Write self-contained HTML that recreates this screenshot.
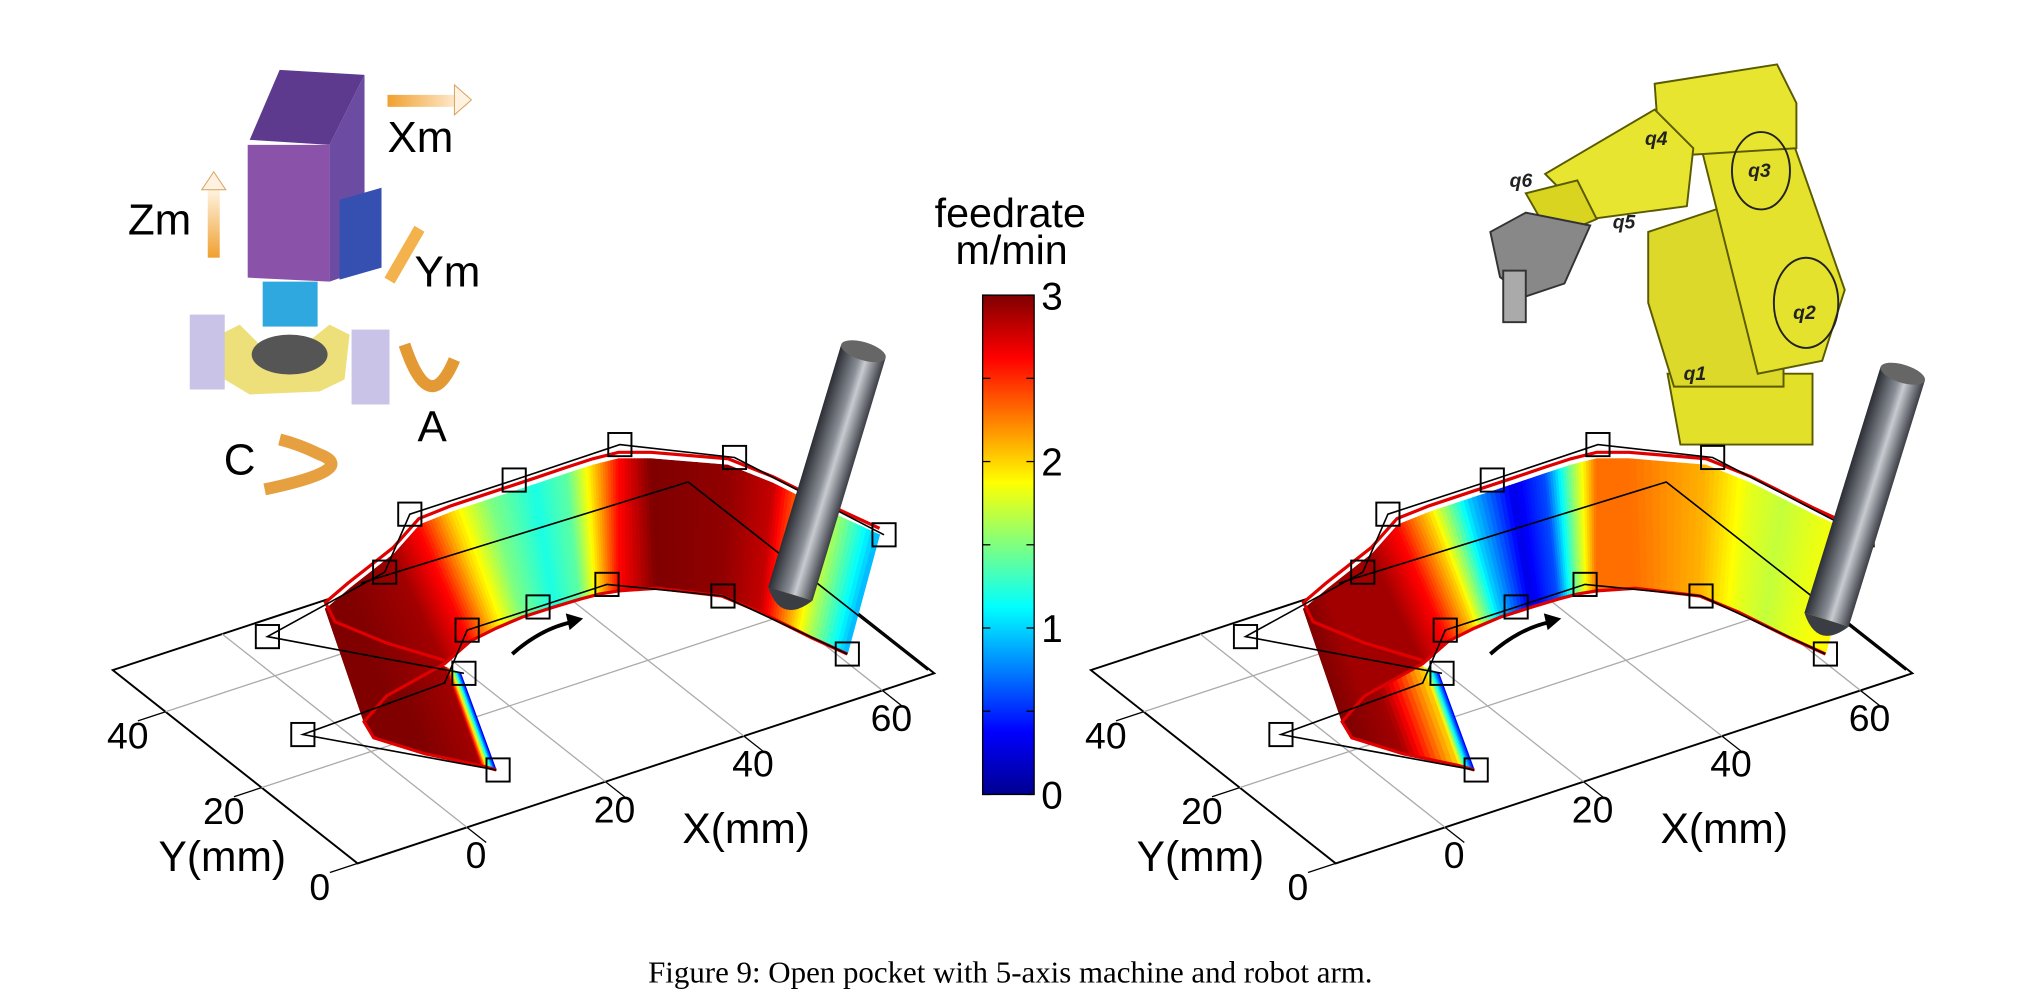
<!DOCTYPE html>
<html><head><meta charset="utf-8"><style>
html,body{margin:0;padding:0;background:#fff;}
svg{display:block;}
text{font-family:"Liberation Sans",sans-serif;}
</style></head><body>
<svg id="fig" width="2020" height="1000" viewBox="0 0 3135 1552" xmlns="http://www.w3.org/2000/svg">
<defs>
<linearGradient id="cbar" x1="0" y1="1" x2="0" y2="0">
<stop offset="0" stop-color="#00008f"/><stop offset="0.125" stop-color="#0000ff"/><stop offset="0.375" stop-color="#00ffff"/><stop offset="0.625" stop-color="#ffff00"/><stop offset="0.875" stop-color="#ff0000"/><stop offset="1" stop-color="#800000"/>
</linearGradient>
<linearGradient id="orangeH" x1="0" y1="0" x2="1" y2="0"><stop offset="0" stop-color="#f0a030"/><stop offset="1" stop-color="#fff6e6"/></linearGradient>
<linearGradient id="orangeV" x1="0" y1="1" x2="0" y2="0"><stop offset="0" stop-color="#f0a030"/><stop offset="1" stop-color="#fff6e6"/></linearGradient>
<linearGradient id="tool" x1="0" y1="0" x2="1" y2="0"><stop offset="0" stop-color="#2a2d33"/><stop offset="0.45" stop-color="#8a8e96"/><stop offset="0.6" stop-color="#c8cbd0"/><stop offset="1" stop-color="#3a3d44"/></linearGradient>
</defs>

<g transform="scale(1.55)">
<polygon points="250,140 280,70 365,75 330,145" fill="#5e3a8e"/>
<polygon points="330,145 365,75 365,270 330,282" fill="#6b4ca2"/>
<polygon points="248,145 330,145 330,282 248,278" fill="#8a52a8"/>
<polygon points="340,200 382,188 382,268 340,280" fill="#3550b0"/>
<rect x="263" y="282" width="55" height="45" fill="#2fa8e0"/>
<polygon points="220,335 240,325 265,350 305,345 330,325 350,335 345,380 320,392 250,395 225,380" fill="#ede07a"/>
<ellipse cx="290" cy="355" rx="38" ry="20" fill="#555"/>
<rect x="190" y="315" width="35" height="75" fill="#c9c3e8"/>
<rect x="352" y="330" width="38" height="75" fill="#c9c3e8"/>
<rect x="388" y="95" width="80" height="12" fill="url(#orangeH)"/>
<polygon points="455,85 472,100 455,115" fill="#fff2e0" stroke="#d8a060" stroke-width="1"/>
<rect x="208" y="188" width="12" height="70" fill="url(#orangeV)"/>
<polygon points="202,190 214,172 226,190" fill="#fff2e0" stroke="#d8a060"/>
<polygon points="385,278 395,284 425,232 415,226" fill="#f3b24c"/>
<path d="M405,345 Q430,420 455,360" fill="none" stroke="#e39a34" stroke-width="12"/>
<path d="M265,490 Q360,470 320,455 Q300,445 280,440" fill="none" stroke="#e6a040" stroke-width="12"/>
<text x="388" y="152" font-size="44">Xm</text>
<text x="128" y="235" font-size="44">Zm</text>
<text x="415" y="287" font-size="44">Ym</text>
<text x="418" y="442" font-size="44">A</text>
<text x="224" y="475" font-size="44">C</text>
</g>

<g transform="translate(1568,0)" stroke="#5a5a00" stroke-width="3">
<polygon points="1020,580 1245,580 1245,690 1040,690" fill="#e3e02a"/>
<polygon points="990,360 1110,320 1200,420 1200,600 1030,600 990,470" fill="#dcd92a"/>
<polygon points="1060,180 1190,150 1295,450 1260,560 1160,580" fill="#e5e22d"/>
<polygon points="1000,130 1190,100 1220,160 1220,230 1060,240 1005,200" fill="#e8e530"/>
<polygon points="830,270 1000,170 1060,230 1050,320 900,340" fill="#e8e530"/>
<polygon points="800,300 880,280 910,340 840,370" fill="#d8d420"/>
<polygon points="745,360 800,330 900,350 860,440 800,460 760,430" fill="#888" stroke="#333"/>
<rect x="765" y="420" width="35" height="80" fill="#aaa" stroke="#333"/>
<ellipse cx="1165" cy="265" rx="45" ry="60" fill="none" stroke="#222"/>
<ellipse cx="1235" cy="470" rx="50" ry="70" fill="none" stroke="#222"/>
<text x="1045" y="590" font-size="30" font-style="italic" font-weight="bold" fill="#222" stroke="none">q1</text>
<text x="1215" y="495" font-size="30" font-style="italic" font-weight="bold" fill="#222" stroke="none">q2</text>
<text x="1145" y="275" font-size="30" font-style="italic" font-weight="bold" fill="#222" stroke="none">q3</text>
<text x="985" y="225" font-size="30" font-style="italic" font-weight="bold" fill="#222" stroke="none">q4</text>
<text x="935" y="355" font-size="30" font-style="italic" font-weight="bold" fill="#222" stroke="none">q5</text>
<text x="775" y="290" font-size="30" font-style="italic" font-weight="bold" fill="#222" stroke="none">q6</text>
</g>

<g id="plots"></g>

<g>
<rect x="1525" y="458" width="80" height="775" fill="url(#cbar)" stroke="#000" stroke-width="2"/>
<g id="cbticks"></g>
<text x="1568" y="352" font-size="64" text-anchor="middle">feedrate</text>
<text x="1570" y="410" font-size="64" text-anchor="middle">m/min</text>
</g>

<text x="1568" y="1525" font-size="48" text-anchor="middle" style="font-family:'Liberation Serif',serif">Figure 9: Open pocket with 5-axis machine and robot arm.</text>
</svg>
<script>
const stations = [0,1,2,3,4,5,6,7,8,9,10,11,12,13,14,15,16,17,18,19];
const feedMachine = [0.2,2.9,3.0,3.0,3.0,3.0,2.9,2.6,2.0,1.5,1.2,1.4,2.0,2.6,3.0,2.95,2.8,2.2,1.6,0.9];
const feedRobot = [0.3,2.0,2.9,3.0,3.0,2.9,2.9,2.6,2.0,1.0,0.3,0.6,1.5,2.3,2.3,2.1,1.8,1.7,1.8,1.9];
const cbTicks = [0,1,2,3];
const xTicks = [0,20,40,60];
const yTicks = [0,20,40];

const NS = 'http://www.w3.org/2000/svg';
function mk(tag, attrs, parent){const e=document.createElementNS(NS,tag);for(const k in attrs)e.setAttribute(k,attrs[k]);parent.appendChild(e);return e;}

const topEdge=[[715,1045],[690,1035],[600,1008],[520,975],[505,945],[540,915],[610,860],[650,815],[700,795],[760,775],[830,752],[880,735],[920,722],[960,712],[1010,712],[1130,722],[1200,750],[1250,775],[1300,800],[1365,830]];
const botEdge=[[770,1195],[745,1188],[660,1170],[580,1145],[565,1120],[600,1080],[690,1030],[730,995],[770,975],[810,958],[860,942],[900,930],[930,922],[960,917],[1020,913],[1120,925],[1180,950],[1220,970],[1260,990],[1315,1015]];

function jet(v){let t=Math.max(0,Math.min(1,v/3));
 const f=(x)=>Math.max(0,Math.min(1,x));
 const r=f(1.5-Math.abs(4*t-3)),g=f(1.5-Math.abs(4*t-2)),b=f(1.5-Math.abs(4*t-1));
 return `rgb(${Math.round(r*255)},${Math.round(g*255)},${Math.round(b*255)})`;}

const F=[555,1340],R=[1450,1045],L=[175,1040];
const xMin=-15.8,xMax=67.5,yMin=0,yMax=51;
function proj(x,y,dx){const u=(x-xMin)/(xMax-xMin),v=(y-yMin)/(yMax-yMin);
 return [F[0]+u*(R[0]-F[0])+v*(L[0]-F[0])+dx,F[1]+u*(R[1]-F[1])+v*(L[1]-F[1])];}

const plots=document.getElementById('plots');
function panel(dx,feed,name){
 const g=mk('g',{},plots);
 
 
 const c=[proj(xMin,yMin,dx),proj(xMax,yMin,dx),proj(xMax,yMax,dx),proj(xMin,yMax,dx)];
 const base=mk('polygon',{points:c.map(p=>p.join(',')).join(' '),fill:'none',stroke:'#000','stroke-width':3},g);
 
 
 xTicks.forEach(t=>{const a=proj(t,yMin,dx),b=proj(t,yMax,dx);
  const l=mk('line',{x1:a[0],y1:a[1],x2:b[0],y2:b[1],stroke:'#aaa','stroke-width':2},g);
  
  
  const o=proj(t,-4,dx);
  mk('line',{x1:a[0],y1:a[1],x2:o[0],y2:o[1],stroke:'#000','stroke-width':2},g);
  const lp=proj(t,-9,dx);
  const tx=mk('text',{x:lp[0]-53,y:lp[1]+10,'font-size':58,'text-anchor':'middle'},g);tx.textContent=t;
  
  });
 yTicks.forEach(t=>{const a=proj(xMin,t,dx),b=proj(xMax,t,dx);
  if(t>0){const l=mk('line',{x1:a[0],y1:a[1],x2:b[0],y2:b[1],stroke:'#aaa','stroke-width':2},g);
  
  }
  const o=proj(xMin-4,t,dx);
  mk('line',{x1:a[0],y1:a[1],x2:o[0],y2:o[1],stroke:'#000','stroke-width':2},g);
  const lp=proj(xMin-9,t,dx);
  const tx=mk('text',{x:lp[0]+38,y:lp[1]+25,'font-size':58,'text-anchor':'middle'},g);tx.textContent=t;
  
  });
 const xl=mk('text',{x:1158+dx,y:1308,'font-size':66,'text-anchor':'middle'},g);xl.textContent='X(mm)';
 
 
 const yl=mk('text',{x:345+dx,y:1352,'font-size':66,'text-anchor':'middle'},g);yl.textContent='Y(mm)';
 
 
 const rg=mk('g',{},g);
 
 
 const SUB=10;
 for(let i=0;i<stations.length-1;i++){
  for(let s=0;s<SUB;s++){
   const a=s/SUB,b=(s+1)/SUB;
   const lerp=(P,Q,t)=>[P[0]+(Q[0]-P[0])*t+dx,P[1]+(Q[1]-P[1])*t];
   const t0=lerp(topEdge[i],topEdge[i+1],a),t1=lerp(topEdge[i],topEdge[i+1],b),b0=lerp(botEdge[i],botEdge[i+1],a),b1=lerp(botEdge[i],botEdge[i+1],b);
   const v=feed[i]+(feed[i+1]-feed[i])*(a+b)/2;
   const col=jet(v);
   const q=mk('polygon',{points:[t0,t1,b1,b0].map(p=>p.join(',')).join(' '),fill:col,stroke:col,'stroke-width':1.5},rg);
   
   
  }
 }
 const tpts=topEdge.slice(1).map(p=>[p[0]+dx,p[1]-10].join(',')).join(' ');
 mk('polyline',{points:topEdge.slice(4).map(p=>[p[0]+dx,p[1]-4].join(',')).join(' '),fill:'none',stroke:'#fff','stroke-width':6},g);
 const tr=mk('polyline',{points:tpts,fill:'none',stroke:'#e00000','stroke-width':5},g);
 
 
 const br=mk('polyline',{points:botEdge.map(p=>[p[0]+dx,p[1]].join(',')).join(' '),fill:'none',stroke:'#e00000','stroke-width':5},g);
 
 
 const poly1=[[770,1195],[470,1140],[690,1060],[725,978],[835,942],[942,907],[1122,925],[1315,1015]];
 const poly2=[[720,1045],[415,988],[597,888],[636,798],[798,745],[962,690],[1140,710],[1372,830]];
 const poly3=[[560,905],[1068,748],[1440,1040]];
 [poly1,poly2,poly3].forEach(pl=>{const e=mk('polyline',{points:pl.map(p=>[p[0]+dx,p[1]].join(',')).join(' '),fill:'none',stroke:'#000','stroke-width':2.5},g);
  
  });
 const sq=[[470,1140],[415,988],[720,1045],[725,978],[597,888],[636,798],[835,942],[798,745],[942,907],[962,690],[1122,925],[1140,710],[1372,830],[1315,1015],[773,1195]];
 sq.forEach(p=>{const r=mk('rect',{x:p[0]+dx-18,y:p[1]-18,width:36,height:36,fill:'none',stroke:'#000','stroke-width':3},g);
  
  });
 const ar=mk('path',{d:`M${795+dx},1015 Q${840+dx},975 ${890+dx},965`,fill:'none',stroke:'#000','stroke-width':6},g);
 
 
 mk('polygon',{points:`${905+dx},960 ${878+dx},952 ${884+dx},978`,fill:'#000'},g);
}
panel(0,feedMachine,'machine-feedrate-plot');
panel(1518,feedRobot,'robot-feedrate-plot');

function tool(x1,y1,x2,y2){const g=mk('g',{},plots);
 
 
 const ang=Math.atan2(y2-y1,x2-x1)*180/Math.PI, len=Math.hypot(x2-x1,y2-y1);
 const gg=mk('g',{transform:`translate(${x1},${y1}) rotate(${ang-90})`},g);
 mk('rect',{x:-36,y:0,width:72,height:len-40,fill:'url(#tool)'},gg);
 mk('ellipse',{cx:0,cy:0,rx:36,ry:14,fill:'#666'},gg);
 mk('path',{d:`M-36,${len-40} Q0,${len+10} 36,${len-40}`,fill:'#3a3d44'},gg);}
tool(1340,545,1215,960);
tool(1568+1385,580,1568+1255,1000);

const cbt=document.getElementById('cbticks');
for(let k=0;k<=6;k++){const y=1233-k*775/6;
 mk('line',{x1:1525,y1:y,x2:1537,y2:y,stroke:'#000','stroke-width':2},cbt);
 mk('line',{x1:1593,y1:y,x2:1605,y2:y,stroke:'#000','stroke-width':2},cbt);}
cbTicks.forEach(v=>{const y=1233-v/3*775;
 const t=mk('text',{x:1616,y:y+22,'font-size':60},cbt);t.textContent=v;
 
 });
</script>
</body></html>
